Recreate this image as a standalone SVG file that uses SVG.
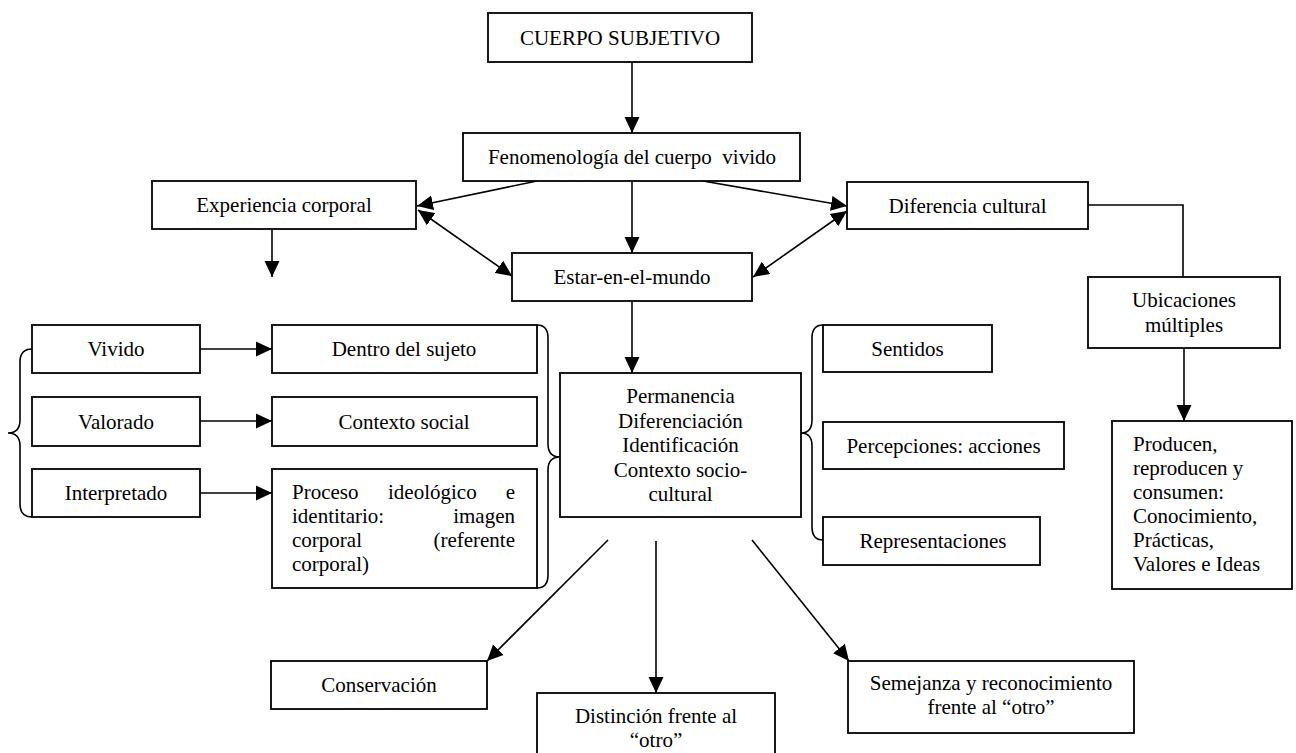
<svg xmlns="http://www.w3.org/2000/svg" width="1296" height="753" viewBox="0 0 1296 753">
  <style>
    .box { fill: #ffffff; stroke: #000000; stroke-width: 1.8; }
    .t { font-family: "Liberation Serif", "Times New Roman", serif; font-size: 21px; fill: #000000; }
    .c { text-anchor: middle; }
    .e { text-anchor: end; }
    .ln { fill: none; stroke: #000000; stroke-width: 1.6; }
    .arr { marker-end: url(#head); }
    .both { marker-start: url(#head); marker-end: url(#head); }
  </style>
  <defs>
    <marker id="head" markerUnits="userSpaceOnUse" markerWidth="16" markerHeight="16" viewBox="0 0 16 16" refX="16" refY="8" orient="auto-start-reverse">
      <path d="M0,0.5 L16,8 L0,15.5 z" fill="#000000"/>
    </marker>
  </defs>
  <rect width="1296" height="753" fill="#ffffff"/>

  <!-- connectors -->
  <g id="connectors">
    <line class="ln arr" x1="632" y1="62" x2="632" y2="133"/>
    <line class="ln arr" x1="537" y1="181" x2="417" y2="206"/>
    <line class="ln both" x1="418" y1="210" x2="512" y2="276"/>
    <line class="ln arr" x1="632" y1="181" x2="632" y2="253"/>
    <line class="ln arr" x1="703" y1="181" x2="847" y2="206"/>
    <line class="ln both" x1="847" y1="211" x2="753" y2="277"/>
    <line class="ln arr" x1="272" y1="229" x2="272" y2="277"/>
    <polyline class="ln" points="1088,205 1183,205 1183,277"/>
    <line class="ln arr" x1="1184" y1="348" x2="1184" y2="421"/>
    <line class="ln arr" x1="632" y1="301" x2="632" y2="373"/>
    <line class="ln arr" x1="200" y1="349" x2="272" y2="349"/>
    <line class="ln arr" x1="200" y1="421" x2="272" y2="421"/>
    <line class="ln arr" x1="200" y1="493" x2="272" y2="493"/>
    <line class="ln arr" x1="608" y1="540" x2="487" y2="661"/>
    <line class="ln arr" x1="656" y1="541" x2="656" y2="693"/>
    <line class="ln arr" x1="752" y1="540" x2="849" y2="661"/>
    <!-- braces -->
    <path class="ln" d="M32,349 Q20,349 20,362 L20,420 Q20,433 8,433 Q20,433 20,446 L20,504 Q20,517 32,517"/>
    <path class="ln" d="M537,325 Q548,325 548,338 L548,444 Q548,457 560,457 Q548,457 548,470 L548,575 Q548,588 537,588"/>
    <path class="ln" d="M823,325 Q812,325 812,338 L812,420 Q812,433 801,433 Q812,433 812,446 L812,527 Q812,540 823,540"/>
  </g>

  <g id="cuerpo-subjetivo">
    <rect class="box" x="488" y="13" width="264" height="49"/>
    <text class="t c" x="620" y="44.5">CUERPO SUBJETIVO</text>
  </g>
  <g id="fenomenologia">
    <rect class="box" x="463" y="133" width="337" height="48"/>
    <text class="t c" x="632" y="164" xml:space="preserve">Fenomenología del cuerpo  vivido</text>
  </g>
  <g id="experiencia">
    <rect class="box" x="152" y="181" width="264" height="48"/>
    <text class="t c" x="284" y="212">Experiencia corporal</text>
  </g>
  <g id="diferencia">
    <rect class="box" x="847" y="182" width="241" height="47"/>
    <text class="t c" x="967.5" y="212.5">Diferencia cultural</text>
  </g>
  <g id="estar">
    <rect class="box" x="512" y="253" width="240" height="48"/>
    <text class="t c" x="632" y="284">Estar-en-el-mundo</text>
  </g>
  <g id="ubicaciones">
    <rect class="box" x="1088" y="277" width="192" height="71"/>
    <text class="t c" x="1184" y="307">Ubicaciones</text>
    <text class="t c" x="1184" y="332">múltiples</text>
  </g>
  <g id="vivido">
    <rect class="box" x="32" y="325" width="168" height="48"/>
    <text class="t c" x="116" y="356">Vivido</text>
  </g>
  <g id="valorado">
    <rect class="box" x="32" y="397" width="168" height="49"/>
    <text class="t c" x="116" y="428.5">Valorado</text>
  </g>
  <g id="interpretado">
    <rect class="box" x="32" y="469" width="168" height="48"/>
    <text class="t c" x="116" y="500">Interpretado</text>
  </g>
  <g id="dentro">
    <rect class="box" x="272" y="325" width="265" height="48"/>
    <text class="t c" x="404" y="356">Dentro del sujeto</text>
  </g>
  <g id="contexto-social">
    <rect class="box" x="272" y="397" width="265" height="49"/>
    <text class="t c" x="404" y="428.5">Contexto social</text>
  </g>
  <g id="proceso">
    <rect class="box" x="272" y="469" width="265" height="119"/>
    <text class="t" x="292" y="499">Proceso</text>
    <text class="t" x="388" y="499">ideológico</text>
    <text class="t e" x="515" y="499">e</text>
    <text class="t" x="292" y="523">identitario:</text>
    <text class="t e" x="515" y="523">imagen</text>
    <text class="t" x="292" y="547">corporal</text>
    <text class="t e" x="515" y="547">(referente</text>
    <text class="t" x="292" y="571">corporal)</text>
  </g>
  <g id="permanencia">
    <rect class="box" x="560" y="373" width="241" height="144"/>
    <text class="t c" x="680.5" y="403">Permanencia</text>
    <text class="t c" x="680.5" y="427.5">Diferenciación</text>
    <text class="t c" x="680.5" y="452">Identificación</text>
    <text class="t c" x="680.5" y="476.5">Contexto socio-</text>
    <text class="t c" x="680.5" y="501">cultural</text>
  </g>
  <g id="sentidos">
    <rect class="box" x="823" y="325" width="169" height="47"/>
    <text class="t c" x="907.5" y="355.5">Sentidos</text>
  </g>
  <g id="percepciones">
    <rect class="box" x="823" y="422" width="241" height="47"/>
    <text class="t c" x="943.5" y="452.5">Percepciones: acciones</text>
  </g>
  <g id="representaciones">
    <rect class="box" x="823" y="517" width="217" height="48"/>
    <text class="t c" x="933" y="548">Representaciones</text>
  </g>
  <g id="producen">
    <rect class="box" x="1112" y="421" width="180" height="168"/>
    <text class="t" x="1133" y="451">Producen,</text>
    <text class="t" x="1133" y="475">reproducen y</text>
    <text class="t" x="1133" y="499">consumen:</text>
    <text class="t" x="1133" y="523">Conocimiento,</text>
    <text class="t" x="1133" y="547">Prácticas,</text>
    <text class="t" x="1133" y="571">Valores e Ideas</text>
  </g>
  <g id="conservacion">
    <rect class="box" x="271" y="661" width="216" height="48"/>
    <text class="t c" x="379" y="692">Conservación</text>
  </g>
  <g id="distincion">
    <rect class="box" x="537" y="693" width="238" height="75"/>
    <text class="t c" x="656" y="723">Distinción frente al</text>
    <text class="t c" x="656" y="747">“otro”</text>
  </g>
  <g id="semejanza">
    <rect class="box" x="848" y="661" width="286" height="72"/>
    <text class="t c" x="991" y="690">Semejanza y reconocimiento</text>
    <text class="t c" x="991" y="714">frente al “otro”</text>
  </g>
</svg>
